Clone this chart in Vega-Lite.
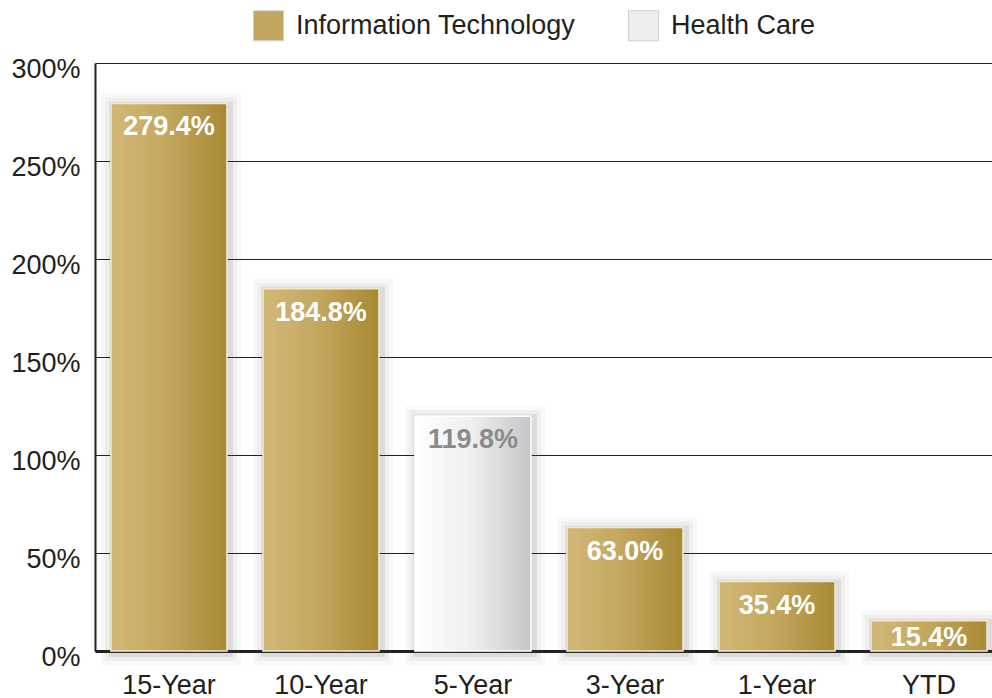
{
  "$schema": "https://vega.github.io/schema/vega-lite/v6.json",
  "autosize": {"type": "none"},
  "width": 897,
  "height": 588,
  "padding": {"left": 95, "top": 63, "right": 0, "bottom": 47},
  "background": "white",
  "config": {
    "view": {"stroke": null},
    "font": "Liberation Sans",
    "axis": {"labelFont": "Liberation Sans", "labelColor": "#231f20", "labelFontSize": 27}
  },
  "data": {
    "values": [
      {"period": "15-Year", "value": 279.4, "label": "279.4%", "sector": "Information Technology"},
      {"period": "10-Year", "value": 184.8, "label": "184.8%", "sector": "Information Technology"},
      {"period": "5-Year", "value": 119.8, "label": "119.8%", "sector": "Health Care"},
      {"period": "3-Year", "value": 63.0, "label": "63.0%", "sector": "Information Technology"},
      {"period": "1-Year", "value": 35.4, "label": "35.4%", "sector": "Information Technology"},
      {"period": "YTD", "value": 15.4, "label": "15.4%", "sector": "Information Technology"}
    ]
  },
  "encoding": {
    "x": {
      "field": "period", "type": "nominal", "sort": null,
      "scale": {"paddingInner": 0.237, "paddingOuter": 0.069, "align": 0.76},
      "axis": {"title": null, "labelAngle": 0, "ticks": false, "labelPadding": 21, "domainColor": "#231f20", "domainWidth": 3, "grid": false}
    },
    "y": {
      "field": "value", "type": "quantitative",
      "scale": {"domain": [0, 300], "nice": false},
      "axis": {"title": null, "values": [0, 50, 100, 150, 200, 250, 300], "labelExpr": "datum.value + '%'", "ticks": false, "labelPadding": 15, "labelOffset": 6, "domainColor": "#231f20", "domainWidth": 2, "gridColor": "#231f20", "gridWidth": 1, "gridOpacity": 1}
    }
  },
  "layer": [
    {"mark": {"type": "bar", "fill": "#000", "fillOpacity": 0, "stroke": "#58595b", "strokeWidth": 24, "strokeOpacity": 0.04, "xOffset": 2, "yOffset": 2}},
    {"mark": {"type": "bar", "fill": "#000", "fillOpacity": 0, "stroke": "#58595b", "strokeWidth": 16, "strokeOpacity": 0.06, "xOffset": 2, "yOffset": 2}},
    {"mark": {"type": "bar", "fill": "#000", "fillOpacity": 0, "stroke": "#58595b", "strokeWidth": 8, "strokeOpacity": 0.12, "xOffset": 2, "yOffset": 2}},
    {
      "mark": {"type": "bar", "opacity": 1},
      "encoding": {
        "color": {
          "field": "sector", "type": "nominal",
          "scale": {"domain": ["Information Technology", "Health Care"], "range": ["#c3a65d", "#eeeeef"]},
          "legend": {
            "title": null, "orient": "none", "direction": "horizontal",
            "legendX": 158, "legendY": -53,
            "symbolType": "square", "symbolSize": 900, "symbolStrokeColor": "#d0d0d2", "symbolStrokeWidth": 1,
            "labelFontSize": 27, "labelFont": "Liberation Sans", "labelColor": "#231f20", "labelOffset": 12,
            "columnPadding": 50, "labelLimit": 400,
            "encode": {
              "symbols": {
                "update": {
                  "fill": {"signal": "datum.value === 'Health Care' ? {gradient: 'linear', x1: 0, y1: 0, x2: 1, y2: 0, stops: [{offset: 0, color: '#ffffff'}, {offset: 0.5, color: '#eeeeef'}, {offset: 1, color: '#c5c6c8'}]} : {gradient: 'linear', x1: 0, y1: 0, x2: 1, y2: 0, stops: [{offset: 0, color: '#d2b878'}, {offset: 0.5, color: '#c3a65d'}, {offset: 1, color: '#a78833'}]}"},
                  "opacity": {"value": 1}
                }
              }
            }
          }
        }
      }
    },
    {
      "transform": [{"filter": "datum.sector === 'Information Technology'"}],
      "mark": {"type": "bar", "stroke": "#f1e8cf", "strokeWidth": 1.5,
        "color": {"gradient": "linear", "x1": 0, "y1": 0, "x2": 1, "y2": 0, "stops": [{"offset": 0, "color": "#d2b878"}, {"offset": 0.5, "color": "#c3a65d"}, {"offset": 1, "color": "#a78833"}]}}
    },
    {
      "transform": [{"filter": "datum.sector === 'Health Care'"}],
      "mark": {"type": "bar", "stroke": "#ffffff", "strokeWidth": 1.5,
        "color": {"gradient": "linear", "x1": 0, "y1": 0, "x2": 1, "y2": 0, "stops": [{"offset": 0, "color": "#ffffff"}, {"offset": 0.5, "color": "#eeeeef"}, {"offset": 1, "color": "#c5c6c8"}]}}
    },
    {
      "transform": [{"filter": "datum.value >= 20"}],
      "mark": {"type": "text", "baseline": "alphabetic", "dy": 32, "fontSize": 27, "fontWeight": "bold", "font": "Liberation Sans"},
      "encoding": {
        "text": {"field": "label"},
        "color": {"condition": {"test": "datum.sector === 'Health Care'", "value": "#8a8b8d"}, "value": "#ffffff"}
      }
    },
    {
      "transform": [{"filter": "datum.value < 20"}],
      "mark": {"type": "text", "baseline": "alphabetic", "dy": 25, "fontSize": 27, "fontWeight": "bold", "font": "Liberation Sans"},
      "encoding": {
        "text": {"field": "label"},
        "color": {"condition": {"test": "datum.sector === 'Health Care'", "value": "#8a8b8d"}, "value": "#ffffff"}
      }
    }
  ]
}
